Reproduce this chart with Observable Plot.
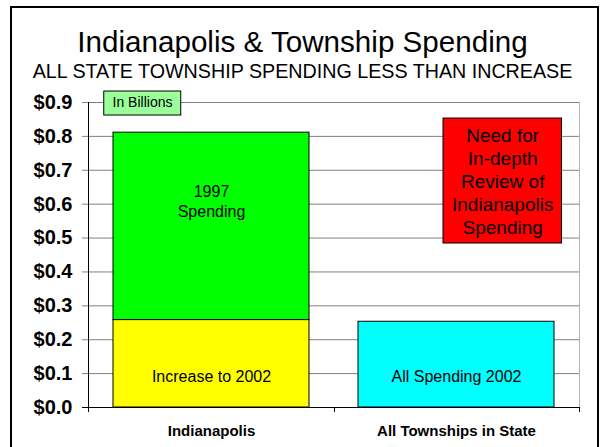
<!DOCTYPE html>
<html>
<head>
<meta charset="utf-8">
<script src="https://cdn.jsdelivr.net/npm/d3@7"></script>
<script src="https://cdn.jsdelivr.net/npm/@observablehq/plot@0.6"></script>
<style>
  body { margin: 0; background: #fff; font-family: Arial, "Liberation Sans", sans-serif; }
  #page { position: relative; width: 600px; height: 447px; overflow: hidden; background: #fff; }
  #border { position: absolute; left: 10px; top: 6px; width: 589px; height: 470px; border: 2px solid #000; box-sizing: border-box; }
  .title { position: absolute; left: 0; width: 605px; text-align: center; color: #000; white-space: nowrap; }
  #t1 { top: 27px; font-size: 29.6px; line-height: 29.6px; }
  #t2 { top: 61.8px; font-size: 19.7px; line-height: 19.7px; }
  #chart { position: absolute; left: 0; top: 84px; }
</style>
</head>
<body>
<div id="page">
  <div id="border"></div>
  <div class="title" id="t1">Indianapolis &amp; Township Spending</div>
  <div class="title" id="t2">ALL STATE TOWNSHIP SPENDING LESS THAN INCREASE</div>
  <div id="chart"></div>
</div>
<script>
// ---- data (values in billions of dollars) ----
const categories = ["Indianapolis", "All Townships in State"];
const segments = ["Increase to 2002", "1997 Spending", "All Spending 2002"];
const segmentCategory = ["Indianapolis", "Indianapolis", "All Townships in State"];
const segmentValues = [0.258, 0.553, 0.253];
const segmentColors = ["#ffff00", "#00ff00", "#00ffff"];
const yTicks = [0, 0.1, 0.2, 0.3, 0.4, 0.5, 0.6, 0.7, 0.8, 0.9];

// labels written inside the bars and where they sit (value axis units)
const barLabelText = ["1997\nSpending", "Increase to 2002", "All Spending 2002"];
const barLabelCategory = ["Indianapolis", "Indianapolis", "All Townships in State"];
const barLabelY = [0.61, 0.092, 0.092];

// annotation boxes
const unitNote = "In Billions";
const reviewNote = "Need for\nIn-depth\nReview of\nIndianapolis\nSpending";

// ---- build tables ----
const rows = segments.map((s, i) => ({category: segmentCategory[i], segment: s, value: segmentValues[i]}));
const labelRows = barLabelText.map((t, i) => ({category: barLabelCategory[i], label: t, y: barLabelY[i]}));

function frameLines(index, scales, values, dims) {
  const l = dims.marginLeft, r = dims.width - dims.marginRight;
  const t = dims.marginTop, b = dims.height - dims.marginBottom;
  const g = d3.create("svg:g");
  // right edge of plot area (light gray)
  g.append("line").attr("x1", r + 0.5).attr("x2", r + 0.5).attr("y1", t).attr("y2", b)
    .attr("stroke", "#b4b4b4");
  // category boundary ticks below the axis
  [l, (l + r) / 2, r].forEach(x => {
    g.append("line").attr("x1", Math.round(x) + 0.5).attr("x2", Math.round(x) + 0.5)
      .attr("y1", b).attr("y2", b + 5).attr("stroke", "#000");
  });
  // value axis line
  g.append("line").attr("x1", l + 0.5).attr("x2", l + 0.5).attr("y1", t).attr("y2", b)
    .attr("stroke", "#000");
  return g.node();
}

const chart = Plot.plot({
  width: 600,
  height: 363,
  marginLeft: 88,
  marginRight: 21,
  marginTop: 18,
  marginBottom: 40,
  style: {fontFamily: "Arial, 'Liberation Sans', sans-serif", color: "#000", background: "transparent", overflow: "visible"},
  x: {domain: categories, paddingInner: 0.2, paddingOuter: 0.1, label: null},
  y: {domain: [0, 0.9], label: null},
  color: {domain: segments, range: segmentColors},
  marks: [
    Plot.gridY(yTicks, {stroke: "#808080", strokeOpacity: 1, insetLeft: -6}),
    Plot.barY(rows, Plot.stackY({x: "category", y: "value", fill: "segment", stroke: "#000", strokeWidth: 1})),
    Plot.text(labelRows, {x: "category", y: "y", text: "label", fontSize: 16, lineHeight: 1.2, fill: "#000"}),
    // "In Billions" note
    Plot.barY([unitNote], {x: () => categories[0], y1: () => 0.9324, y2: () => 0.8616,
      fill: "#99ff99", stroke: "#000", insetLeft: -9.25, insetRight: 128.25}),
    Plot.text([unitNote], {x: () => categories[0], y: () => 0.9, text: d => d, dx: -69, fontSize: 14, fill: "#000"}),
    // red review note
    Plot.barY([reviewNote], {x: () => categories[1], y1: () => 0.8527, y2: () => 0.4839,
      fill: "#ff0000", stroke: "#000", insetLeft: 85, insetRight: -7.5}),
    Plot.text([reviewNote], {x: () => categories[1], y: () => 0.67, text: d => d, dx: 46.2, fontSize: 19, lineHeight: 1.21, fill: "#000"}),
    Plot.ruleY([0], {stroke: "#000", insetLeft: -6}),
    frameLines,
    Plot.axisY({ticks: yTicks, tickSize: 0, tickPadding: 16, tickFormat: d => "$" + d.toFixed(1),
      fontSize: 20, fontWeight: "bold", fill: "#000"}),
    Plot.axisX({tickSize: 0, tickPadding: 18, fontSize: 15, fontWeight: "bold", fill: "#000"})
  ]
});
document.getElementById("chart").appendChild(chart);
</script>
</body>
</html>
